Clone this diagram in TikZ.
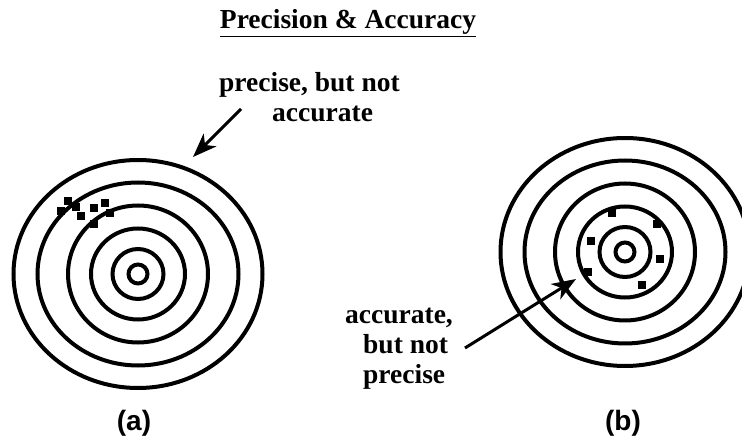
\documentclass[tikz,border=0pt]{standalone}
\usepackage{fontspec}
\setmainfont{Liberation Serif}
\setsansfont{Liberation Sans}
\usepackage{tikz}
\usetikzlibrary{positioning, arrows.meta}
\tikzset{
    ring_style/.style={
        draw=black,           % 圆环颜色
        line width=4pt        % 圆环线宽
    },
    hit_style/.style={
        rectangle,            % 落点为小方块
        fill=black,           % 填充颜色
        inner sep=0pt,
        minimum size=8pt      % 方块大小
    },
    label_style/.style={
        font=\bfseries\fontsize{27.5}{30}\selectfont, % 粗体衬线字
        inner sep=0pt,
        align=left
    },
    tag_style/.style={
        font=\sffamily\bfseries\fontsize{28}{30}\selectfont, % 粗体无衬线字
        inner sep=0pt
    },
    arrow_style/.style={
        -{Stealth[length=24pt, width=18pt, inset=7pt]}, % 箭头形状
        line width=3pt        % 箭头线条宽度
    }
}

\begin{document}
\begin{tikzpicture}[x=1pt, y=-1pt]
    \useasboundingbox (0,0) rectangle (742,438);

    % 1. 定义靶心位置
    \coordinate (A) at (138,274);
    \coordinate (B) at (625,252);

    % 2. 绘制同心圆环
    \foreach \rx/\ry in {124.5/114, 100.5/91.5, 70/68.5, 47/45.5, 25.5/25, 9.5/9.5} {
        \draw[ring_style] (A) ellipse [x radius=\rx pt, y radius=\ry pt];
        \draw[ring_style] (B) ellipse [x radius=\rx pt, y radius=\ry pt];
    }

    % 3. 绘制落点
    \foreach \x/\y [count=\i] in {68/201, 61/211, 76/207, 81/216, 94/208, 105/203, 110/213, 94/224}
        \node[hit_style] (a\i) at (\x,\y) {};
    \foreach \x/\y [count=\i] in {612/213, 657/224, 591/241, 660/259, 588/272, 642/285}
        \node[hit_style] (b\i) at (\x,\y) {};

    % 4. 标题与说明文字 (多行节点的 base 为最后一行)
    \node[label_style, anchor=base] (title) at (348,29) {\underline{Precision \& Accuracy}};
    \node[label_style, anchor=base west] (precise) at (219,122) {precise, but not\\\hspace*{53pt}accurate};
    \node[label_style, anchor=base west] (accurate) at (345,384) {accurate,\\\hspace*{18pt}but not\\\hspace*{18pt}precise};
    \node[tag_style, anchor=base] (tag_a) at (134,431) {(a)};
    \node[tag_style, anchor=base] (tag_b) at (623,431) {(b)};

    % 5. 绘制箭头
    \coordinate (tail_a) at (241,109);
    \coordinate (tip_a) at (193,157);
    \coordinate (tail_b) at (465,348);
    \coordinate (tip_b) at (576,279);
    \draw[arrow_style] (tail_a) -- (tip_a);
    \draw[arrow_style] (tail_b) -- (tip_b);
\end{tikzpicture}
\end{document}
